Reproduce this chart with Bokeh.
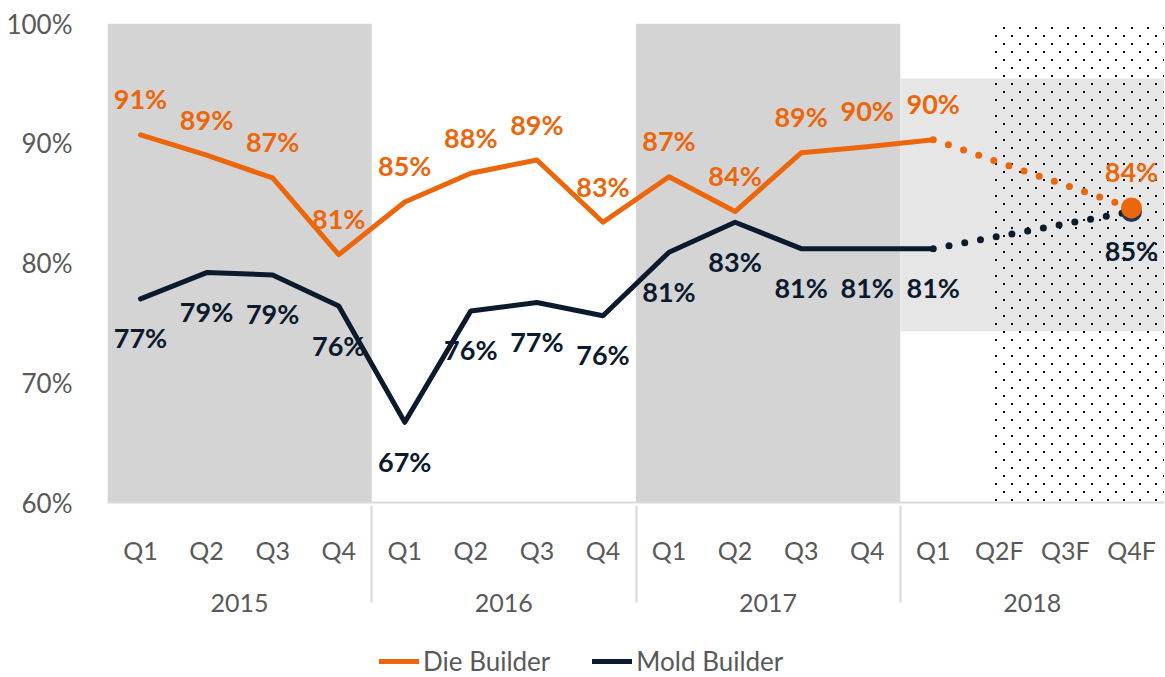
import base64
from bokeh.plotting import figure
from bokeh.layouts import column
from bokeh.models import (FactorRange, ColumnDataSource, LabelSet, Legend, LegendItem,
                          FixedTicker, PrintfTickFormatter, ImageURLTexture, Range1d)
from bokeh.core.properties import value
from bokeh.embed import file_html
from bokeh.resources import INLINE

# ---------------- data ----------------
years = ["2015", "2016", "2017", "2018"]
quarters = [["Q1", "Q2", "Q3", "Q4"],
            ["Q1", "Q2", "Q3", "Q4"],
            ["Q1", "Q2", "Q3", "Q4"],
            ["Q1", "Q2F", "Q3F", "Q4F"]]
die = [90.7, 89.0, 87.1, 80.7, 85.1, 87.5, 88.6, 83.4, 87.2, 84.3, 89.2, 89.7, 90.3, None, None, 84.6]
mold = [77.0, 79.2, 79.0, 76.4, 66.7, 76.0, 76.7, 75.6, 80.9, 83.4, 81.2, 81.2, 81.2, None, None, 84.3]
die_labels = ["91%", "89%", "87%", "81%", "85%", "88%", "89%", "83%", "87%", "84%", "89%", "90%", "90%", "", "", "84%"]
mold_labels = ["77%", "79%", "79%", "76%", "67%", "76%", "77%", "76%", "81%", "83%", "81%", "81%", "81%", "", "", "85%"]
series_names = ["Die Builder", "Mold Builder"]
shaded_years = ["2015", "2017"]
y_ticks = [60, 70, 80, 90, 100]

ORANGE = "#EC660B"
NAVY = "#0C1A2E"
TXT = "#595959"
FONT = "Lato"

factors = [(y, q) for y, qs in zip(years, quarters) for q in qs]
n_actual = 13  # last actual observation index + 1
last = len(factors) - 1

p = figure(x_range=FactorRange(factors=factors, range_padding=0, group_padding=0, factor_padding=0),
           y_range=(60, 100), frame_width=1057, frame_height=479,
           output_backend="svg", toolbar_location=None,
           min_border_left=107, min_border_right=0, min_border_top=23, min_border_bottom=125)
p.outline_line_color = None
p.grid.visible = False
p.background_fill_color = "white"

# shaded year bands
p.vbar(x=shaded_years, width=4, bottom=60, top=100, fill_color="#D4D4D4", line_color=None)
# forecast highlight band
p.vbar(x=["2018"], width=4, bottom=74.3, top=95.4, fill_color="#E6E6E6", line_color=None)

# dotted forecast texture (staggered tiny dots)
tile = ('<svg xmlns="http://www.w3.org/2000/svg" width="16" height="16">'
        '<rect x="3" y="3" width="2" height="2" fill="#111"/>'
        '<rect x="11" y="11" width="2" height="2" fill="#111"/></svg>')
tile_url = "data:image/svg+xml;base64," + base64.b64encode(tile.encode()).decode()
p.quad(left=[("2018", "Q2F", -0.12)], right=[("2018", "Q4F", 0.5)], bottom=[60], top=[100],
       fill_color=None, line_color=None, hatch_pattern=value("dots"),
       hatch_extra={"dots": ImageURLTexture(url=tile_url)})

act_x = factors[:n_actual]
p.line(act_x, die[:n_actual], line_color=ORANGE, line_width=5, line_cap="round", line_join="round")
p.line(act_x, mold[:n_actual], line_color=NAVY, line_width=5, line_cap="round", line_join="round")

fx = [factors[n_actual - 1], factors[last]]
p.line(fx, [die[n_actual - 1], die[last]], line_color=ORANGE, line_width=7,
       line_dash="0 16", line_cap="round")
p.line(fx, [mold[n_actual - 1], mold[last]], line_color=NAVY, line_width=7,
       line_dash="0 16", line_cap="round")

p.scatter([factors[last]], [mold[last]], size=21, fill_color="#1F3550", line_color=None)
p.scatter([factors[last]], [die[last]], size=21, fill_color=ORANGE, line_color=None)

# data labels
lab_idx = [i for i in range(len(factors)) if die_labels[i]]
src_d = ColumnDataSource(dict(x=[factors[i] for i in lab_idx], y=[die[i] for i in lab_idx],
                              t=[die_labels[i] for i in lab_idx]))
src_m = ColumnDataSource(dict(x=[factors[i] for i in lab_idx], y=[mold[i] for i in lab_idx],
                              t=[mold_labels[i] for i in lab_idx]))
p.add_layout(LabelSet(x="x", y="y", text="t", source=src_d, y_offset=36,
                      text_align="center", text_baseline="middle", text_color=ORANGE,
                      text_font=value(FONT), text_font_style="bold", text_font_size="27px"))
p.add_layout(LabelSet(x="x", y="y", text="t", source=src_m, y_offset=-39,
                      text_align="center", text_baseline="middle", text_color=NAVY,
                      text_font=value(FONT), text_font_style="bold", text_font_size="27px"))

# axes
p.yaxis.ticker = FixedTicker(ticks=y_ticks)
p.yaxis.formatter = PrintfTickFormatter(format="%d%%")
p.yaxis.axis_line_color = None
p.yaxis.major_tick_line_color = None
p.yaxis.minor_tick_line_color = None
p.yaxis.major_label_standoff = 29
p.yaxis.major_label_text_font = FONT
p.yaxis.major_label_text_font_size = "26px"
p.yaxis.major_label_text_color = TXT

xa = p.xaxis[0]
xa.axis_line_color = "#D9D9D9"
xa.axis_line_width = 2
xa.major_tick_line_color = None
xa.minor_tick_line_color = None
xa.major_label_standoff = 26
xa.major_label_text_font = FONT
xa.major_label_text_font_size = "25px"
xa.major_label_text_color = TXT
xa.group_text_font = FONT
xa.group_text_font_size = "25px"
xa.group_text_color = TXT
xa.group_text_font_style = "normal"
xa.separator_line_color = "#D9D9D9"
xa.separator_line_width = 2

# legend strip below the chart (key renderers sit outside its visible range)
lf = figure(width=1164, height=50, output_backend="svg", toolbar_location=None,
            min_border=0, x_range=Range1d(0, 1), y_range=Range1d(0, 1))
lf.axis.visible = False
lf.grid.visible = False
lf.outline_line_color = None
r_die = lf.line([-3, -2], [-3, -2], line_color=ORANGE, line_width=5, line_cap="round")
r_mold = lf.line([-3, -2], [-3, -2], line_color=NAVY, line_width=5, line_cap="round")
legend = Legend(items=[LegendItem(label=series_names[0], renderers=[r_die]),
                       LegendItem(label=series_names[1], renderers=[r_mold])],
                orientation="horizontal", location=(272, 0),
                label_text_font=FONT, label_text_font_size="26px", label_text_color=TXT,
                glyph_width=40, glyph_height=20, label_standoff=4, spacing=42,
                border_line_color=None, background_fill_alpha=0, padding=0, margin=0)
lf.add_layout(legend, "center")

layout = column(p, lf, spacing=0)
open("out.html", "w").write(file_html(layout, INLINE))
